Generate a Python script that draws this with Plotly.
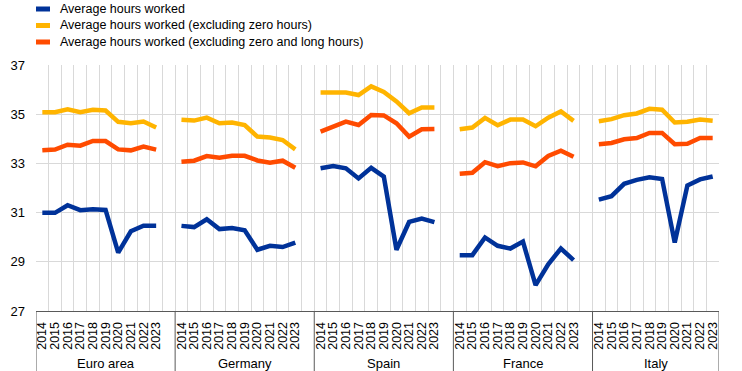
import plotly.graph_objects as go

# ---------------- data ----------------
groups = ["Euro area", "Germany", "Spain", "France", "Italy"]
years = ["2014", "2015", "2016", "2017", "2018", "2019", "2020", "2021", "2022", "2023"]

series_names = [
    "Average hours worked",
    "Average hours worked (excluding zero hours)",
    "Average hours worked (excluding zero and long hours)",
]
series_colors = ["#003299", "#FFB400", "#FF4B00"]

# values per group, 2014-2023
avg_hours = [
    [30.99, 30.99, 31.30, 31.10, 31.14, 31.11, 29.37, 30.24, 30.47, 30.47],  # Euro area
    [30.46, 30.41, 30.73, 30.33, 30.37, 30.28, 29.49, 29.65, 29.60, 29.78],  # Germany
    [32.80, 32.89, 32.80, 32.39, 32.82, 32.46, 29.49, 30.62, 30.76, 30.61],  # Spain
    [29.27, 29.27, 29.99, 29.65, 29.54, 29.82, 28.05, 28.90, 29.54, 29.07],  # France
    [31.53, 31.67, 32.17, 32.33, 32.44, 32.37, 29.78, 32.10, 32.35, 32.47],  # Italy
]
avg_hours_excl_zero = [
    [35.08, 35.08, 35.20, 35.08, 35.18, 35.15, 34.69, 34.63, 34.70, 34.46],
    [34.77, 34.74, 34.86, 34.63, 34.66, 34.56, 34.09, 34.05, 33.95, 33.57],
    [35.88, 35.88, 35.88, 35.78, 36.13, 35.90, 35.52, 35.04, 35.27, 35.27],
    [34.39, 34.46, 34.85, 34.55, 34.78, 34.78, 34.51, 34.86, 35.11, 34.73],
    [34.71, 34.80, 34.96, 35.03, 35.22, 35.18, 34.66, 34.69, 34.78, 34.73],
]
avg_hours_excl_zero_long = [
    [33.53, 33.56, 33.76, 33.72, 33.91, 33.91, 33.57, 33.53, 33.68, 33.56],
    [33.07, 33.11, 33.30, 33.23, 33.31, 33.31, 33.12, 33.03, 33.11, 32.82],
    [34.29, 34.50, 34.70, 34.56, 34.97, 34.95, 34.63, 34.09, 34.39, 34.40],
    [32.58, 32.62, 33.05, 32.89, 33.01, 33.04, 32.88, 33.30, 33.52, 33.27],
    [33.78, 33.83, 33.98, 34.03, 34.24, 34.24, 33.78, 33.80, 34.03, 34.03],
]
all_series = [avg_hours, avg_hours_excl_zero, avg_hours_excl_zero_long]

y_ticks = [27, 29, 31, 33, 35, 37]

# ---------------- layout constants (pixels) ----------------
W, H = 742, 371
ML, MR, MT, MB = 36, 23, 65, 60
PW, PH = W - ML - MR, H - MT - MB

# ---------------- category positions ----------------
slot = len(years) + 1  # one empty slot between groups
n_slots = slot * len(groups) - 1


def pos(g, j):
    return g * slot + j + 0.5


FONT = "Arial, Liberation Sans, sans-serif"
fig = go.Figure()

for name, color, data in zip(series_names, series_colors, all_series):
    xs, ys = [], []
    for g, vals in enumerate(data):
        for j, v in enumerate(vals):
            xs.append(pos(g, j))
            ys.append(v)
        xs.append(None)
        ys.append(None)
    fig.add_trace(go.Scatter(x=xs, y=ys, mode="lines", name=name,
                             line=dict(color=color, width=4.5),
                             connectgaps=False, showlegend=False))

tickvals = [pos(g, j) for g in range(len(groups)) for j in range(len(years))]
ticktext = [y for g in range(len(groups)) for y in years]

boundaries = [g * slot for g in range(len(groups))] + [n_slots]
shapes = [dict(type="line", xref="x", yref="paper", x0=b, x1=b, y0=0, y1=-MB / PH,
               line=dict(color="#595959", width=1), layer="above")
          for b in boundaries]

annotations = [dict(x=(boundaries[g] + boundaries[g + 1]) / 2, y=-52 / PH,
                    xref="x", yref="paper", text=grp, showarrow=False,
                    yanchor="middle", font=dict(family=FONT, size=13, color="#000000"))
               for g, grp in enumerate(groups)]

# ---------------- legend (drawn as key lines + text) ----------------
legend_rows_px = [9, 25.5, 42]
for name, color, ypx in zip(series_names, series_colors, legend_rows_px):
    yp = (H - MB - ypx) / PH
    shapes.append(dict(type="line", xref="paper", yref="paper",
                       x0=0, x1=14 / PW, y0=yp, y1=yp,
                       line=dict(color=color, width=5)))
    annotations.append(dict(x=22 / PW, y=yp, xref="paper", yref="paper",
                            text=name, showarrow=False, xanchor="left",
                            yanchor="middle",
                            font=dict(family=FONT, size=12.5, color="#000000")))

fig.update_layout(
    width=W, height=H,
    margin=dict(l=ML, r=MR, t=MT, b=MB, autoexpand=False),
    paper_bgcolor="white", plot_bgcolor="white",
    font=dict(family=FONT, size=13, color="#000000"),
    showlegend=False,
    xaxis=dict(range=[0, n_slots], tickmode="array", tickvals=tickvals,
               ticktext=ticktext, tickangle=-90, showgrid=False, zeroline=False,
               ticks="", showline=True, linecolor="#595959", linewidth=1,
               automargin=False, ticklabelstandoff=5,
               tickfont=dict(family=FONT, size=12.5, color="#000000"),
               minor=dict(tick0=0, dtick=1, showgrid=True, gridcolor="#d9d9d9",
                          gridwidth=1, ticks="")),
    yaxis=dict(range=[27, 37], tickmode="array", tickvals=y_ticks,
               showgrid=True, gridcolor="#d9d9d9", gridwidth=1, zeroline=False,
               ticks="", showline=False, ticklabelstandoff=10, automargin=False,
               tickfont=dict(family=FONT, size=13, color="#000000")),
    shapes=shapes,
    annotations=annotations,
)

fig.write_html("out.html",
               config={"displayModeBar": False},
               post_script="document.body.style.margin='0';"
                           "document.body.style.overflow='hidden';")
